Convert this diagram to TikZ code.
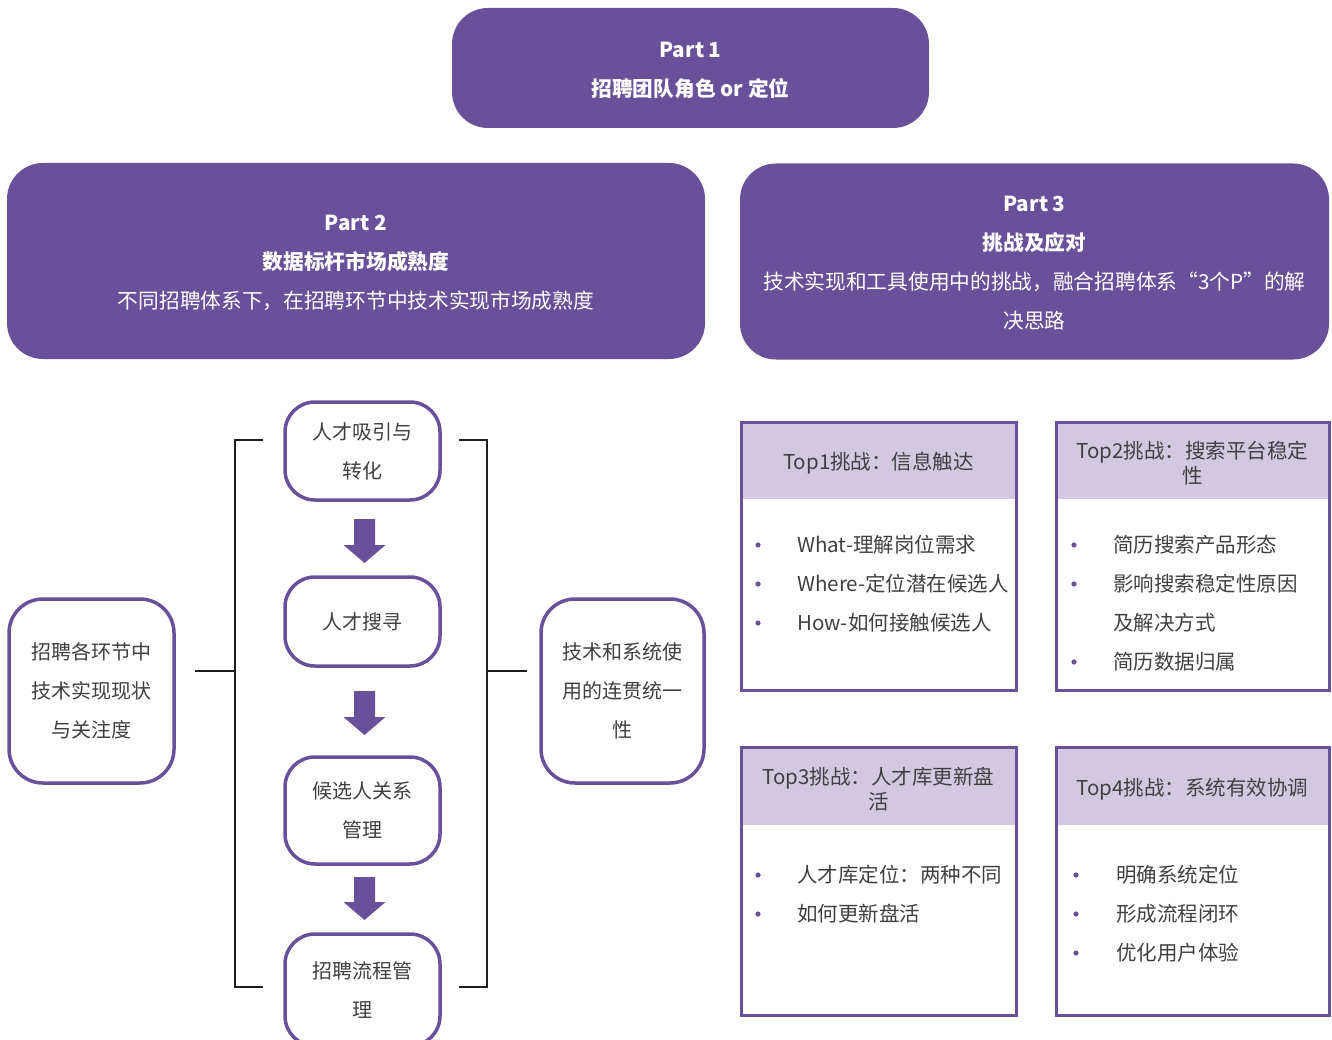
\documentclass[tikz,border=0pt]{standalone}
\usepackage{fontspec}
\setmainfont{Noto Sans CJK SC}
\usetikzlibrary{calc}
\definecolor{purp}{RGB}{104,80,154}
\definecolor{lav}{RGB}{210,200,226}
\definecolor{txt}{RGB}{64,64,64}
\definecolor{brk}{RGB}{30,30,30}
\newcommand\blkarrow[3]{%
  \fill[purp] (#1-10.5,#2) -- (#1+10.5,#2) -- (#1+10.5,#3-18) -- (#1+21,#3-18) -- (#1,#3) -- (#1-21,#3-18) -- (#1-10.5,#3-18) -- cycle;}
\begin{document}
\begin{tikzpicture}[x=1pt,y=-1pt,
  partbox/.style={fill=purp, rounded corners=36pt, inner sep=0pt},
  parttxt/.style={text=white, align=center, inner sep=0pt, font=\fontsize{20.7}{39}\selectfont, yshift=-2pt},
  flowbox/.style={draw=purp, line width=3.5pt, rounded corners=30pt, fill=white, text=txt, align=center,
    inner sep=0pt, minimum width=155pt, font=\fontsize{20}{39}\selectfont},
  sidebox/.style={draw=purp, line width=3.5pt, rounded corners=34pt, fill=white, text=txt, align=center,
    inner sep=0pt, font=\fontsize{20}{39}\selectfont},
  tbox/.style={draw=purp, line width=3pt, minimum width=275pt, minimum height=268pt, inner sep=0pt},
  thead/.style={fill=lav, minimum width=272pt, inner sep=0pt},
  htxt/.style={text=txt, align=center, inner sep=0pt, font=\fontsize{20.5}{25}\selectfont, yshift=-3pt},
  btxt/.style={anchor=west, inner sep=0pt, text=txt, font=\fontsize{20.5}{39}\selectfont},
  bracket/.style={draw=brk, line width=1.6pt},
]
\useasboundingbox (0,0) rectangle (1332,1040);

% Part boxes
\node[partbox, minimum width=477pt, minimum height=120pt] (p1) at (690.5,68) {};
\node[parttxt] (p1t) at (p1) {\bfseries Part 1\\\bfseries 招聘团队角色 or 定位};
\node[partbox, minimum width=698pt, minimum height=196pt] (p2) at (356,261) {};
\node[parttxt] (p2t) at (p2) {\bfseries Part 2\\\bfseries 数据标杆市场成熟度\\不同招聘体系下，在招聘环节中技术实现市场成熟度};
\node[partbox, minimum width=589pt, minimum height=196pt] (p3) at (1034.5,261.5) {};
\node[parttxt] (p3t) at (p3) {\bfseries Part 3\\\bfseries 挑战及应对\\技术实现和工具使用中的挑战，融合招聘体系“3个P”的解\\决思路};

% left / right boxes
\node[sidebox, minimum width=165pt, minimum height=184pt] (L) at (91.5,691)
  {招聘各环节中\\技术实现现状\\与关注度};
\node[sidebox, minimum width=163pt, minimum height=184pt] (R) at (622.5,691)
  {技术和系统使\\用的连贯统一\\性};

% flow boxes
\node[flowbox, minimum height=98pt] (b1) at (362.5,451) {人才吸引与\\转化};
\node[flowbox, minimum height=89pt] (b2) at (362.5,621.5) {人才搜寻};
\node[flowbox, minimum height=107pt] (b3) at (362.5,810.5) {候选人关系\\管理};
\node[flowbox, minimum height=112pt] (b4) at (362.5,990) {招聘流程管\\理};

% block arrows
\blkarrow{364.5}{519}{563}
\blkarrow{364.5}{691}{735}
\blkarrow{364.5}{877}{920}

% brackets
\coordinate (lstub) at (195,671);
\coordinate (lmid) at (235,671);
\coordinate (ltop) at (263,440);
\coordinate (lbot) at (263,987);
\coordinate (rstub) at (527,671);
\coordinate (rmid) at (487,671);
\coordinate (rtop) at (459,440);
\coordinate (rbot) at (459,987);
\draw[bracket] (ltop) -| (lmid) |- (lbot);
\draw[bracket] (lstub) -- (lmid);
\draw[bracket] (rtop) -| (rmid) |- (rbot);
\draw[bracket] (rmid) -- (rstub);

% Top boxes
\node[thead, minimum height=77pt] (h1) at (878.5,460.5) {};
\node[htxt] (h1t) at (h1) {Top1挑战：信息触达};
\node[tbox] (t1) at (878.5,556) {};
\node[thead, minimum height=77pt] (h2) at (1192.5,460.5) {};
\node[htxt] (h2t) at (h2) {Top2挑战：搜索平台稳定\\性};
\node[tbox, minimum width=273pt] (t2) at (1192.5,556) {};
\node[thead, minimum height=78pt] (h3) at (878.5,786) {};
\node[htxt] (h3t) at (h3) {Top3挑战：人才库更新盘\\活};
\node[tbox] (t3) at (878.5,881) {};
\node[thead, minimum height=78pt] (h4) at (1192.5,786) {};
\node[htxt] (h4t) at (h4) {Top4挑战：系统有效协调};
\node[tbox, minimum width=273pt] (t4) at (1192.5,881) {};

% bullets
\foreach \y in {545,584,623} \fill[purp] (758,\y) circle (2.6pt);
\node[btxt] (a1) at (797,545) {What-理解岗位需求};
\node[btxt] (a2) at (797,584) {Where-定位潜在候选人};
\node[btxt] (a3) at (797,623) {How-如何接触候选人};

\foreach \y in {545,584,662} \fill[purp] (1074,\y) circle (2.6pt);
\node[btxt] (c1) at (1113,545) {简历搜索产品形态};
\node[btxt] (c2) at (1113,584) {影响搜索稳定性原因};
\node[btxt] (c3) at (1113,623) {及解决方式};
\node[btxt] (c4) at (1113,662) {简历数据归属};

\foreach \y in {875,914} \fill[purp] (758,\y) circle (2.6pt);
\node[btxt] (d1) at (797,875) {人才库定位：两种不同};
\node[btxt] (d2) at (797,914) {如何更新盘活};

\foreach \y in {875,914,953} \fill[purp] (1076,\y) circle (2.6pt);
\node[btxt] (e1) at (1116,875) {明确系统定位};
\node[btxt] (e2) at (1116,914) {形成流程闭环};
\node[btxt] (e3) at (1116,953) {优化用户体验};
\end{tikzpicture}
\end{document}
